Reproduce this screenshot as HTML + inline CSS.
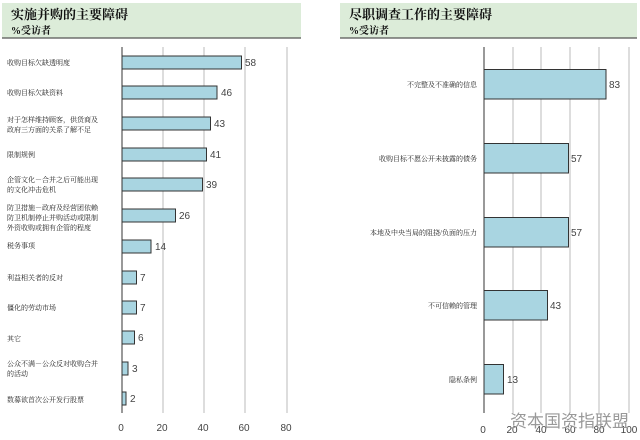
<!DOCTYPE html>
<html><head><meta charset="utf-8"><style>
html,body{margin:0;padding:0;background:#fff;}
svg{display:block;}
.cj{font-family:"Liberation Serif","Noto Serif CJK SC","Noto Sans CJK SC",serif;}
.lb{font-family:"Liberation Serif","Noto Serif CJK SC",serif;font-size:7px;fill:#222;}
.num{font-family:"Liberation Sans",sans-serif;font-size:10px;fill:#444;}
</style></head><body>
<svg width="640" height="440" xmlns="http://www.w3.org/2000/svg">
<rect x="0" y="0" width="640" height="440" fill="#fff"/>
<rect x="2" y="3" width="299" height="35" fill="#dcecd9"/>
<line x1="2" y1="38" x2="301" y2="38" stroke="#555" stroke-width="1.2"/>
<text x="11" y="19" class="cj" font-size="13" font-weight="bold" fill="#111">实施并购的主要障碍</text>
<text x="11" y="34" class="cj" font-size="10" font-weight="bold" fill="#111">%受访者</text>
<rect x="340" y="3" width="297" height="35" fill="#dcecd9"/>
<line x1="340" y1="38" x2="637" y2="38" stroke="#555" stroke-width="1.2"/>
<text x="349" y="19" class="cj" font-size="13" font-weight="bold" fill="#111">尽职调查工作的主要障碍</text>
<text x="349" y="34" class="cj" font-size="10" font-weight="bold" fill="#111">%受访者</text>

<g stroke="#bbb" stroke-width="1">
<line x1="163" y1="47" x2="163" y2="413"/><line x1="204" y1="47" x2="204" y2="413"/>
<line x1="245" y1="47" x2="245" y2="413"/><line x1="287" y1="47" x2="287" y2="413"/>
</g>
<line x1="122" y1="47" x2="122" y2="413" stroke="#333"/>
<g class="num" text-anchor="middle">
<text x="121" y="431">0</text><text x="162" y="431">20</text><text x="203" y="431">40</text><text x="244" y="431">60</text><text x="286" y="431">80</text>
</g>
<g fill="#a9d5e1" stroke="#333" stroke-width="1">
<rect x="122" y="56" width="119.5" height="13"/>
<rect x="122" y="86" width="95" height="13"/>
<rect x="122" y="117" width="88.5" height="13"/>
<rect x="122" y="148" width="84.5" height="13"/>
<rect x="122" y="178" width="80.5" height="13"/>
<rect x="122" y="209" width="53.5" height="13"/>
<rect x="122" y="240" width="29" height="13"/>
<rect x="122" y="271" width="14.5" height="13"/>
<rect x="122" y="301" width="14.5" height="13"/>
<rect x="122" y="331" width="12.5" height="13"/>
<rect x="122" y="362" width="6" height="13"/>
<rect x="122" y="392" width="4" height="13"/>
</g>
<g class="num">
<text x="245" y="66">58</text><text x="221" y="96">46</text><text x="214" y="127">43</text>
<text x="210" y="158">41</text><text x="206" y="188">39</text><text x="179" y="219">26</text>
<text x="155" y="250">14</text><text x="140" y="281">7</text><text x="140" y="311">7</text>
<text x="138" y="341">6</text><text x="132" y="372">3</text><text x="130" y="402">2</text>
</g>
<g class="lb">
<text x="7" y="65">收购目标欠缺透明度</text>
<text x="7" y="95">收购目标欠缺资料</text>
<text x="7" y="122">对于怎样维持顾客，供货商及</text>
<text x="7" y="132">政府三方面的关系了解不足</text>
<text x="7" y="157">限制规例</text>
<text x="7" y="182">企管文化－合并之后可能出现</text>
<text x="7" y="192">的文化冲击危机</text>
<text x="7" y="210">防卫措施－政府及经营团依赖</text>
<text x="7" y="220">防卫机制停止并购活动或限制</text>
<text x="7" y="230">外资收购或拥有企管的程度</text>
<text x="7" y="248">税务事项</text>
<text x="7" y="280">利益相关者的反对</text>
<text x="7" y="310">僵化的劳动市场</text>
<text x="7" y="341">其它</text>
<text x="7" y="366">公众不满－公众反对收购合并</text>
<text x="7" y="376">的活动</text>
<text x="7" y="402">数募欲首次公开发行股票</text>
</g>

<g stroke="#bbb" stroke-width="1">
<line x1="513" y1="47" x2="513" y2="413"/><line x1="541" y1="47" x2="541" y2="413"/>
<line x1="570" y1="47" x2="570" y2="413"/><line x1="599" y1="47" x2="599" y2="413"/>
<line x1="629" y1="47" x2="629" y2="413"/>
</g>
<line x1="484" y1="47" x2="484" y2="413" stroke="#333"/>
<g class="num" text-anchor="middle">
<text x="483" y="433">0</text><text x="512" y="433">20</text><text x="541" y="433">40</text><text x="570" y="433">60</text><text x="599" y="433">80</text><text x="629" y="433">100</text>
</g>
<g fill="#a9d5e1" stroke="#333" stroke-width="1">
<rect x="484" y="69.5" width="122" height="29.5"/>
<rect x="484" y="143.5" width="84.5" height="29.5"/>
<rect x="484" y="217.5" width="84.5" height="29.5"/>
<rect x="484" y="290.5" width="63.5" height="29.5"/>
<rect x="484" y="364.5" width="19.5" height="29.5"/>
</g>
<g class="num">
<text x="609" y="88">83</text><text x="571" y="162">57</text><text x="571" y="236">57</text>
<text x="550" y="309">43</text><text x="507" y="383">13</text>
</g>
<g class="lb" text-anchor="end">
<text x="477" y="87">不完整及不准确的信息</text>
<text x="477" y="161">收购目标不愿公开未披露的债务</text>
<text x="477" y="235">本地及中央当局的阻挠/负面的压力</text>
<text x="477" y="308">不可信赖的管理</text>
<text x="477" y="382">隐私条例</text>
</g>
<text x="510" y="427" font-family="Liberation Sans,Noto Sans CJK SC,sans-serif" font-size="17" fill="#999">资本国资指联盟</text>
</svg>
</body></html>
